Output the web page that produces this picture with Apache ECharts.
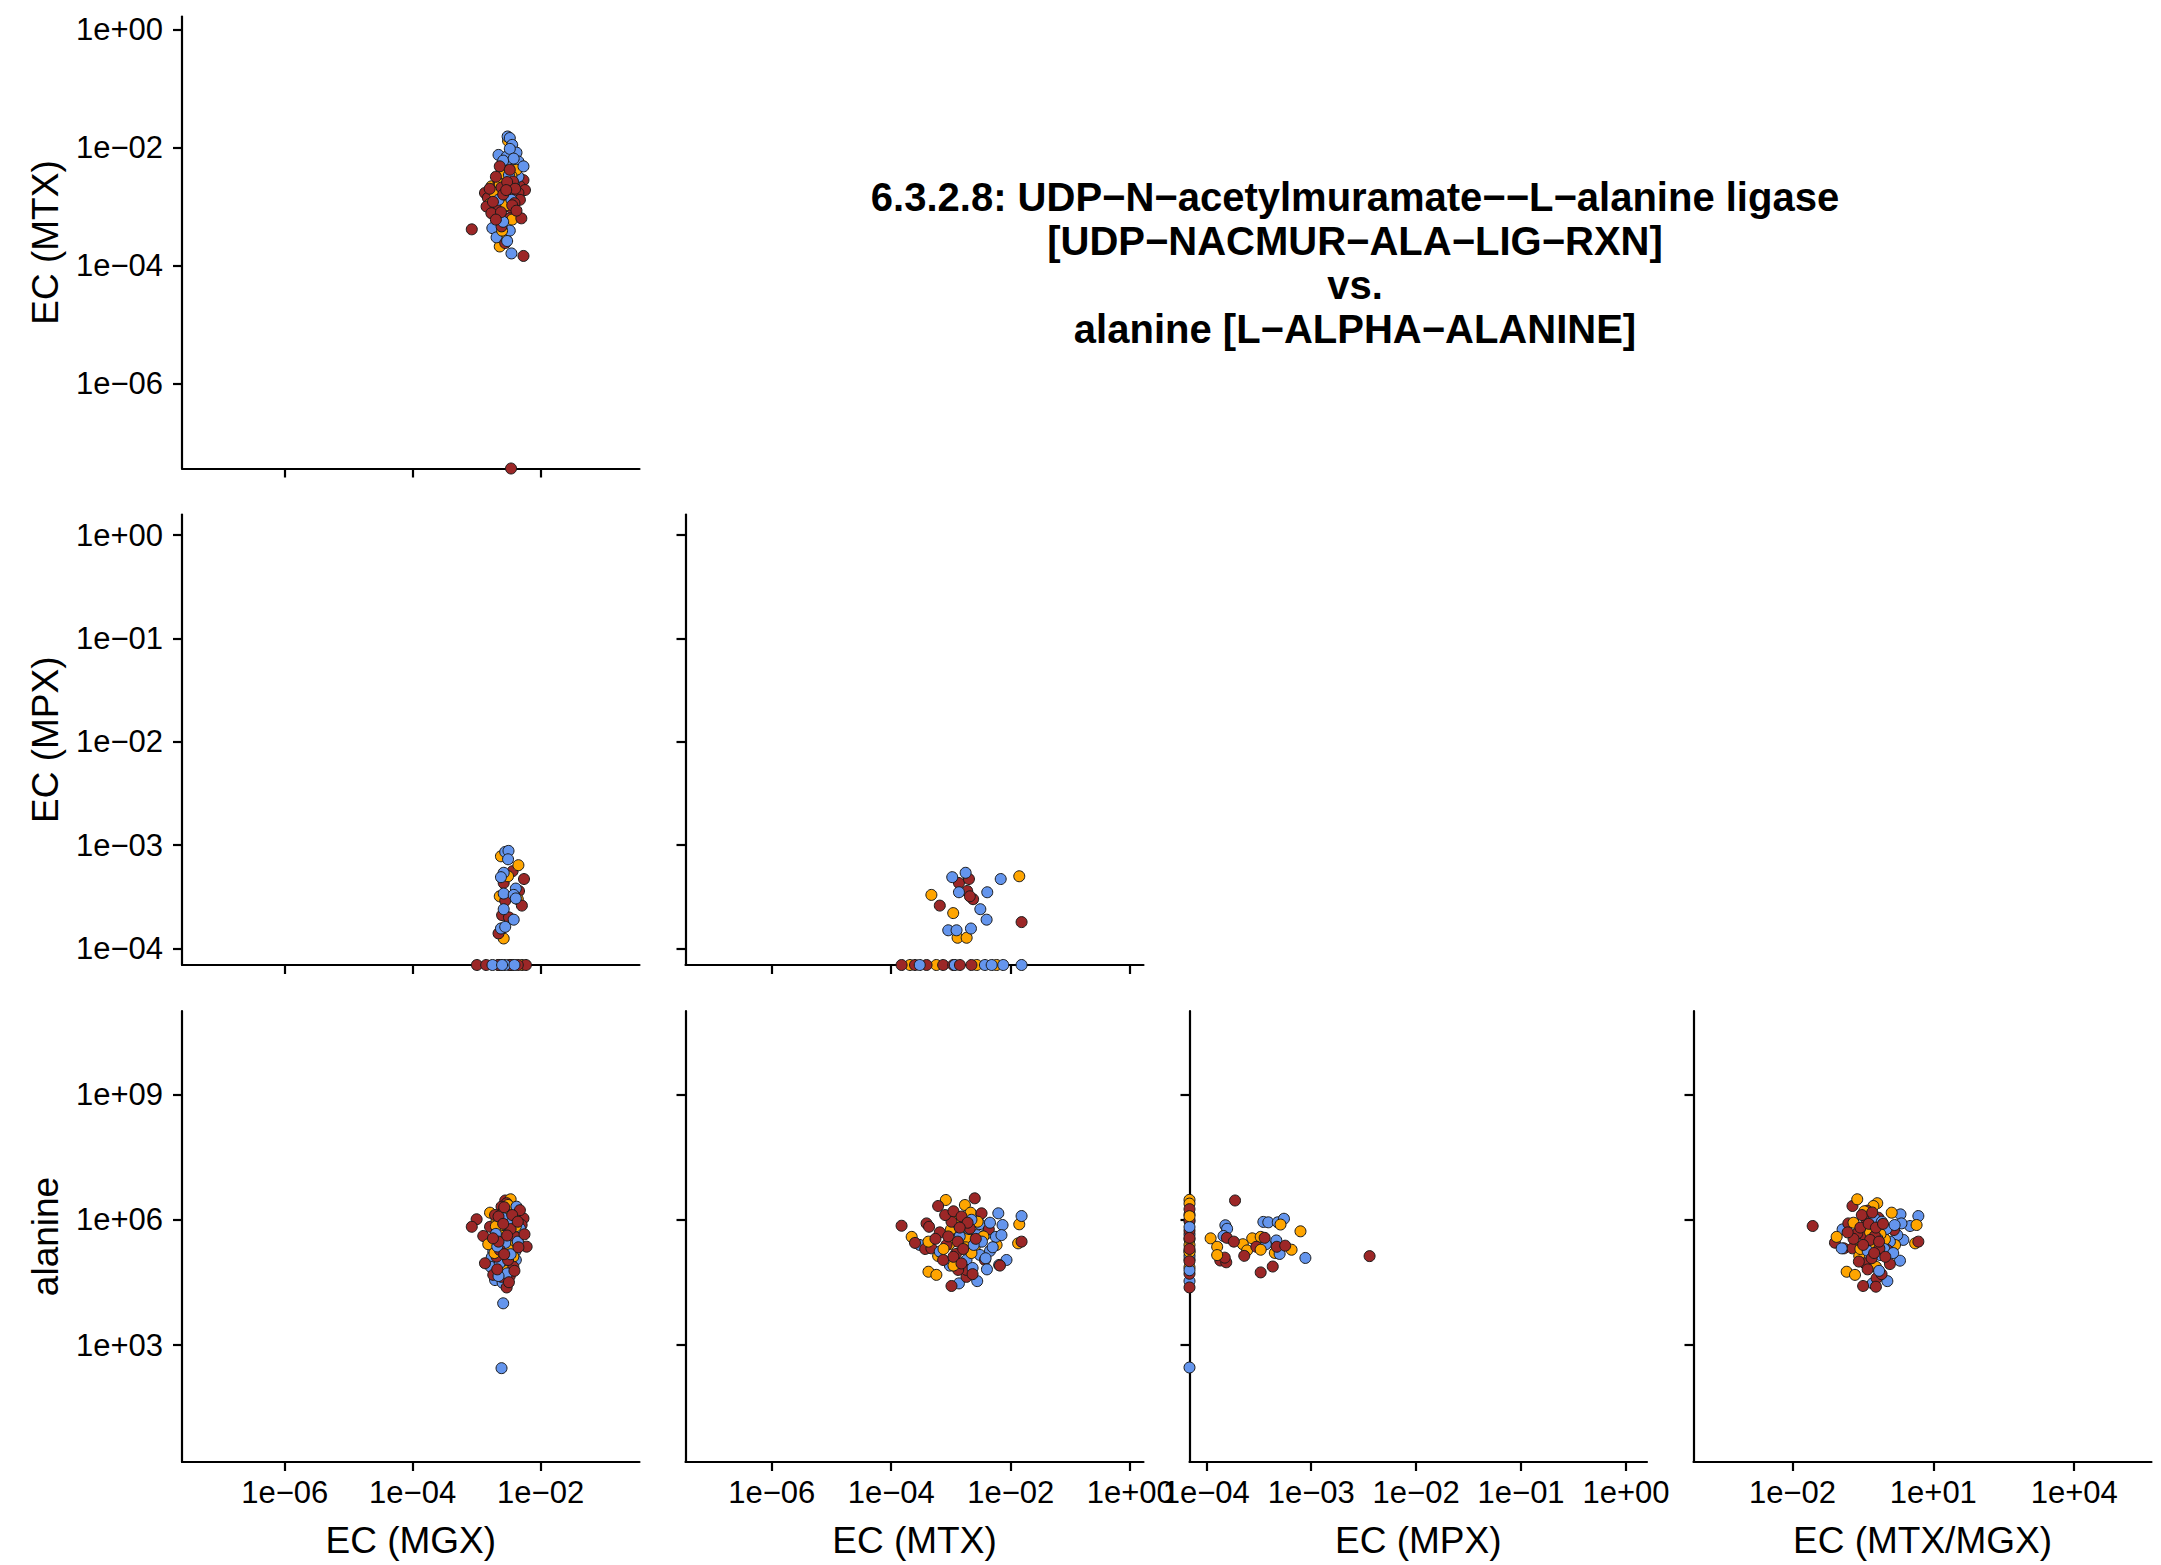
<!DOCTYPE html>
<html>
<head>
<meta charset="utf-8">
<script src="https://cdn.jsdelivr.net/npm/echarts@6.0.0/dist/echarts.min.js"></script>
<style>
html,body{margin:0;padding:0;background:#fff;}
#chart{width:2161px;height:1565px;}
</style>
</head>
<body>
<div id="chart"></div>
<script>
// ---------------- DATA ----------------
const titleLines = [
  "6.3.2.8: UDP\u2212N\u2212acetylmuramate\u2212\u2212L\u2212alanine ligase",
  "[UDP\u2212NACMUR\u2212ALA\u2212LIG\u2212RXN]",
  "vs.",
  "alanine [L\u2212ALPHA\u2212ALANINE]"
];
const groupColors = { red: "#9c2727", orange: "#ffa500", blue: "#6495ed" };

// axis ranges (value space) and tick values
const mgxLimits = [2.48e-8, 0.3516];
const mtxLimits = [3.6e-8, 1.67];
const mpxLimits = [6.92e-5, 1.585];
const ratioLimits = [7.83e-5, 4.42e5];
const alaLimits = [1.585, 1e11];
const mgxTicks = [1e-6, 1e-4, 1e-2];
const mtxTicks = [1e-6, 1e-4, 1e-2, 1];
const mpxTicks = [1e-4, 1e-3, 1e-2, 1e-1, 1];
const ratioTicks = [1e-2, 1e1, 1e4];
const alaTicks = [1e3, 1e6, 1e9];

// Panel: EC (MTX) vs EC (MGX)   [mgx, mtx]
const mtxVsMgx_red = [[2.8e-3,3.7e-3],[4.2e-3,3.45e-3],[3.1e-3,3.0e-3],[5.4e-3,2.8e-3],[2.2e-3,2.5e-3],[2.8e-3,2.2e-3],[4.75e-3,2.2e-3],[5.7e-3,1.9e-3],[1.35e-3,1.7e-3],[1.95e-3,1.8e-3],[3.5e-3,1.7e-3],[4.5e-3,1.7e-3],[1.5e-3,1.4e-3],[3.1e-3,1.2e-3],[4.75e-3,1.3e-3],[1.43e-3,1.0e-3],[2.2e-3,9.4e-4],[3.5e-3,9.4e-4],[1.7e-3,7.7e-4],[3.3e-3,6.3e-4],[5.0e-3,6.3e-4],[8.4e-4,4.1e-4],[2.45e-3,4.6e-4],[2.8e-3,2.4e-4],[5.4e-3,1.45e-4],[2.3e-3,4.8e-3],[3.7e-3,2.65e-3],[2.45e-3,2.1e-3],[3.9e-3,1.14e-3],[3.45e-3,3.6e-8],[2.0e-3,3.2e-3],[3.0e-3,2.6e-3],[4.0e-3,2.0e-3],[2.6e-3,1.6e-3],[1.8e-3,1.2e-3],[3.6e-3,1.05e-3],[2.4e-3,8.0e-4],[4.2e-3,8.5e-4],[2.0e-3,6.0e-4],[2.9e-3,1.9e-3],[1.6e-3,2.0e-3],[3.3e-3,4.2e-3]];
const mtxVsMgx_orange = [[3.1e-3,1.3e-2],[3.7e-3,5.4e-3],[1.7e-3,2.2e-3],[2.05e-3,1.3e-3],[1.8e-3,8.8e-4],[2.45e-3,6.8e-4],[2.8e-3,3.3e-4],[2.3e-3,2.1e-4],[2.2e-3,1.5e-3],[3.3e-3,1.9e-3],[1.95e-3,4.6e-4],[4.2e-3,4.2e-3],[2.6e-3,2.9e-3],[1.6e-3,1.1e-3],[2.7e-3,3.6e-3],[3.5e-3,3.3e-3],[2.3e-3,2.4e-3],[1.9e-3,1.7e-3],[2.9e-3,1.05e-3],[3.6e-3,6.0e-4],[2.5e-3,3.9e-4]];
const mtxVsMgx_blue = [[3.05e-3,1.54e-2],[3.3e-3,1.45e-2],[3.6e-3,1.11e-2],[2.2e-3,7.5e-3],[4.2e-3,8.2e-3],[2.95e-3,7.0e-3],[4.5e-3,5.8e-3],[2.95e-3,5.1e-3],[2.45e-3,4.2e-3],[4.5e-3,3.2e-3],[2.7e-3,1.57e-3],[2.8e-3,1.0e-3],[1.76e-3,4.3e-4],[3.3e-3,3.9e-4],[2.05e-3,3.0e-4],[3.5e-3,1.6e-4],[5.4e-3,4.8e-3],[3.8e-3,2.4e-3],[2.3e-3,6.0e-4],[3.3e-3,9.5e-3],[2.6e-3,6.0e-3],[3.8e-3,6.5e-3],[3.2e-3,3.4e-3],[2.2e-3,1.3e-3],[3.5e-3,1.3e-3],[2.6e-3,5.5e-4],[3.0e-3,2.6e-4]];

// Panel: EC (MPX) vs EC (MGX)   [mgx, mpx]
const mpxVsMgx_red = [[3.65e-3,5.6e-4],[5.5e-3,4.7e-4],[2.65e-3,4.3e-4],[4.6e-3,3.6e-4],[2.8e-3,2.9e-4],[5.1e-3,2.6e-4],[2.5e-3,2.1e-4],[3.2e-3,2.0e-4],[2.5e-3,1.56e-4],[2.2e-3,1.4e-4],[1.01e-3,6.92e-5],[1.41e-3,6.92e-5],[2.2e-3,6.92e-5],[3.3e-3,6.92e-5],[5.9e-3,6.92e-5],[4.4e-3,6.92e-5]];
const mpxVsMgx_orange = [[2.4e-3,7.8e-4],[4.5e-3,6.4e-4],[3.1e-3,5.0e-4],[2.3e-3,3.2e-4],[4.4e-3,3.0e-4],[2.65e-3,1.25e-4],[3.3e-3,6.92e-5],[5.1e-3,6.92e-5],[2.2e-3,6.92e-5],[3.6e-3,6.92e-5]];
const mpxVsMgx_blue = [[2.8e-3,8.6e-4],[3.15e-3,8.8e-4],[3.1e-3,7.3e-4],[2.65e-3,5.4e-4],[2.4e-3,4.9e-4],[4.1e-3,3.8e-4],[2.65e-3,3.4e-4],[3.8e-3,3.3e-4],[4.1e-3,3.05e-4],[2.65e-3,2.4e-4],[3.8e-3,1.9e-4],[2.4e-3,1.56e-4],[2.8e-3,1.62e-4],[1.77e-3,6.92e-5],[2.8e-3,6.92e-5],[3.9e-3,6.92e-5],[2.5e-3,6.92e-5]];

// Panel: EC (MPX) vs EC (MTX)   [mtx, mpx]
const mpxVsMtx_red = [[1.36e-3,4.3e-4],[2.0e-3,4.7e-4],[1.87e-3,3.6e-4],[2.35e-3,3.0e-4],[2.07e-3,3.2e-4],[6.5e-4,2.6e-4],[1.52e-2,1.8e-4],[1.49e-4,6.92e-5],[2.5e-4,6.92e-5],[3.9e-4,6.92e-5],[7.4e-4,6.92e-5],[1.09e-3,6.92e-5],[1.41e-3,6.92e-5],[2.2e-3,6.92e-5]];
const mpxVsMtx_orange = [[1.39e-2,5.0e-4],[4.7e-4,3.3e-4],[1.09e-3,2.2e-4],[1.29e-3,1.27e-4],[1.83e-3,1.27e-4],[2.06e-4,6.92e-5],[5.7e-4,6.92e-5],[2.7e-3,6.92e-5],[5.8e-3,6.92e-5]];
const mpxVsMtx_blue = [[1.05e-3,4.9e-4],[1.76e-3,5.4e-4],[6.8e-3,4.7e-4],[1.36e-3,3.5e-4],[4.05e-3,3.5e-4],[3.1e-3,2.4e-4],[3.95e-3,1.9e-4],[9.0e-4,1.5e-4],[1.24e-3,1.5e-4],[2.16e-3,1.56e-4],[3.0e-4,6.92e-5],[1.16e-3,6.92e-5],[3.7e-3,6.92e-5],[4.8e-3,6.92e-5],[7.5e-3,6.92e-5],[1.52e-2,6.92e-5]];

// Panel: alanine vs EC (MGX)   [mgx, alanine]
const alaVsMgx_red = [[2.8e-3,2.9e6],[2.95e-3,2.5e6],[2.45e-3,2.06e6],[1.0e-3,1.03e6],[8.4e-4,6.8e5],[1.62e-3,6.8e5],[1.27e-3,4.1e5],[5.4e-3,1.08e6],[5.05e-3,7.5e5],[2.6e-3,1.56e6],[2.95e-3,1.03e6],[6.05e-3,2.27e5],[1.35e-3,9.1e4],[1.82e-3,4.8e4],[3.75e-3,7.5e4],[2.45e-3,4.3e4],[3.3e-3,4.5e4],[2.95e-3,2.4e4],[2.05e-3,1.31e5],[4.0e-3,3.9e5],[3.1e-3,1.09e5],[4.75e-3,1.7e6],[1.94e-3,1.3e6],[2.3e-3,1.9e5],[3.4e-3,6.0e5],[2.2e-3,3.0e5],[2.2e-3,1.2e6],[3.6e-3,1.3e6],[4.4e-3,9.0e5],[2.6e-3,8.0e5],[3.0e-3,4.2e5],[1.8e-3,3.6e5],[4.5e-3,2.2e5],[2.7e-3,1.5e5],[3.9e-3,6.0e4],[2.1e-3,6.5e4],[3.2e-3,3.2e4],[2.7e-3,2.0e6],[5.6e-3,4.5e5]];
const alaVsMgx_orange = [[3.4e-3,3.1e6],[3.1e-3,2.26e6],[1.62e-3,1.48e6],[3.75e-3,9.0e5],[2.45e-3,5.2e5],[4.75e-3,4.5e5],[1.52e-3,2.6e5],[2.6e-3,2.27e5],[4.5e-3,2.73e5],[2.3e-3,3.3e5],[2.95e-3,6.3e4],[3.3e-3,5.7e5],[2.05e-3,9.9e5],[3.75e-3,1.31e5],[2.8e-3,1.09e5],[2.7e-3,1.7e6],[3.9e-3,1.15e6],[2.0e-3,7.0e5],[3.5e-3,3.3e5],[2.6e-3,4.1e5],[4.1e-3,7.0e5],[3.2e-3,1.9e5],[1.9e-3,1.6e5]];
const alaVsMgx_blue = [[4.1e-3,1.43e6],[2.2e-3,7.5e5],[2.95e-3,7.5e5],[1.82e-3,1.73e5],[1.72e-3,1.26e5],[4.0e-3,1.73e5],[4.1e-3,1.09e5],[1.66e-3,7.5e4],[2.6e-3,7.5e4],[1.94e-3,3.6e4],[2.55e-3,3.1e4],[2.6e-3,1.0e4],[2.45e-3,2.8e2],[3.3e-3,3.9e5],[3.75e-3,2.73e5],[3.1e-3,4.7e5],[2.3e-3,9.1e4],[4.2e-3,2.06e6],[4.75e-3,6.2e5],[2.6e-3,1.1e6],[3.5e-3,8.5e5],[2.0e-3,4.6e5],[2.8e-3,2.8e5],[3.4e-3,1.5e5],[2.1e-3,2.3e5],[3.0e-3,5.2e4],[2.2e-3,4.5e4],[4.4e-3,3.0e5]];

// Panel: alanine vs EC (MTX)   [mtx, alanine]
const alaVsMtx_red = [[2.5e-3,3.27e6],[6.1e-4,2.14e6],[1.49e-4,7.2e5],[3.9e-4,8.2e5],[4.3e-4,6.8e5],[2.5e-4,2.8e5],[3.7e-4,2.0e5],[4.7e-4,2.07e5],[1.52e-2,3.0e5],[1.02e-3,2.6e4],[1.82e-3,4.3e4],[1.9e-3,7.3e4],[1.24e-3,1.08e6],[3.25e-3,1.43e6],[4.3e-3,5.9e5],[1.21e-3,1.52e5],[8.4e-4,2.5e5],[7.4e-4,1.09e5],[3.7e-3,1.09e5],[1.02e-3,9.0e5],[1.82e-3,6.3e4],[1.32e-3,6.3e4],[2.07e-3,6.2e5],[6.6e-3,8.0e4],[8.0e-4,1.3e6],[1.1e-3,1.6e6],[1.5e-3,1.2e6],[6.5e-4,5.0e5],[9.0e-4,4.0e5],[1.3e-3,3.0e5],[1.6e-3,2.0e5],[1.1e-3,1.3e5],[1.5e-3,9.0e4],[2.3e-3,5.0e4],[2.6e-3,3.5e5],[5.5e-4,3.5e5],[1.9e-3,8.5e5],[1.4e-3,6.5e5]];
const alaVsMtx_orange = [[8.2e-4,2.98e6],[1.71e-3,2.26e6],[2.2e-4,3.9e5],[1.39e-2,7.8e5],[1.33e-2,2.73e5],[4.2e-4,5.7e4],[5.7e-4,4.8e4],[2.13e-3,1.48e6],[1.0e-3,5.9e5],[1.5e-3,4.7e5],[1.95e-3,3.6e5],[5.8e-3,2.5e5],[2.5e-3,2.27e5],[1.78e-3,2.19e5],[6.1e-4,1.36e5],[9.4e-4,2.6e5],[1.2e-3,1.0e6],[2.8e-3,9.0e5],[1.6e-3,6.5e5],[7.5e-4,2.0e5],[2.2e-3,1.6e5],[3.5e-3,4.0e5],[1.1e-3,8.0e4],[4.2e-4,3.0e5]];
const alaVsMtx_blue = [[3.0e-4,2.5e5],[6.2e-3,1.43e6],[7.3e-3,7.5e5],[1.52e-2,1.23e6],[8.5e-3,1.09e5],[6.4e-3,8.3e4],[1.36e-3,3.0e4],[2.75e-3,3.4e4],[9.6e-4,8.0e4],[3.05e-3,7.9e5],[3.95e-3,4.7e5],[4.5e-3,1.8e5],[3.05e-3,1.44e5],[1.82e-3,1.09e5],[1.28e-3,8.2e5],[6.5e-4,1.73e5],[2.7e-3,4.3e5],[5.65e-3,3.9e5],[2.2e-3,1.0e6],[4.5e-3,8.5e5],[2.0e-3,6.0e5],[3.3e-3,3.0e5],[5.0e-3,2.2e5],[2.4e-3,2.5e5],[3.8e-3,1.2e5],[1.4e-3,4.0e5],[7.0e-3,4.3e5],[2.3e-3,7.0e4],[4.0e-3,6.5e4]];

// Panel: alanine vs EC (MPX)   [mpx, alanine]
const alaVsMpx_red = [[1.36e-4,1.06e5],[1.55e-4,9.6e4],[1.5e-4,1.24e5],[1.57e-4,3.7e5],[1.88e-4,2.9e6],[1.83e-4,3.0e5],[2.3e-4,1.37e5],[3.0e-4,2.26e5],[3.6e-4,3.7e5],[3.3e-4,5.5e4],[4.3e-4,7.6e4],[4.7e-4,2.26e5],[5.65e-4,2.4e5],[3.6e-3,1.35e5],[6.92e-5,1.35e6],[6.92e-5,1.0e6],[6.92e-5,5.5e5],[6.92e-5,5.1e4],[6.92e-5,2.4e4],[6.92e-5,1.8e6],[6.92e-5,2.0e5],[6.92e-5,1.02e5],[6.92e-5,3.7e5]];
const alaVsMpx_orange = [[1.1e-4,3.6e5],[1.27e-4,2.26e5],[1.27e-4,1.43e5],[2.23e-4,2.6e5],[2.45e-4,1.85e5],[2.74e-4,3.6e5],[3.3e-4,3.9e5],[3.3e-4,1.92e5],[4.5e-4,1.61e5],[5.1e-4,7.7e5],[6.5e-4,1.92e5],[7.9e-4,5.3e5],[6.92e-5,3.0e6],[6.92e-5,2.44e6],[6.92e-5,2.5e5],[6.92e-5,1.13e5],[6.92e-5,7.3e4],[6.92e-5,3.4e5],[6.92e-5,1.67e5],[6.92e-5,1.22e6]];
const alaVsMpx_blue = [[1.52e-4,7.4e5],[1.58e-4,6.1e5],[1.46e-4,4.1e5],[3.7e-4,2.6e5],[3.5e-4,8.9e5],[3.9e-4,8.7e5],[4.65e-4,3.2e5],[4.8e-4,8.7e5],[5.5e-4,1.06e6],[5.0e-4,1.52e5],[8.8e-4,1.22e5],[6.92e-5,9.1e5],[6.92e-5,4.5e5],[6.92e-5,1.78e5],[6.92e-5,3.4e4],[6.92e-5,2.9e2],[6.92e-5,6.7e5],[6.92e-5,1.37e5],[6.92e-5,6.2e4]];

// Panel: alanine vs EC (MTX/MGX)   [ratio, alanine]
const alaVsRatio_red = [[0.19,2.14e6],[0.027,7.1e5],[0.155,8.2e5],[0.0805,2.83e5],[0.125,2.07e5],[0.19,2.07e5],[0.39,1.65e6],[0.675,1.12e6],[0.38,9.9e5],[1.45,5.7e5],[4.8,3.0e5],[0.334,4.3e5],[0.225,4.3e5],[0.486,2.73e5],[1.05,1.9e5],[0.35,9.1e4],[1.19,8.7e4],[0.32,2.6e4],[0.62,4.0e4],[0.79,5.0e4],[0.57,4.1e5],[0.486,1.2e5],[0.24,4.7e5],[0.71,2.07e5],[0.28,6.5e5],[0.45,3.3e5],[0.3,1.3e6],[0.5,1.5e6],[0.42,8.0e5],[0.6,6.5e5],[0.2,3.5e5],[0.32,2.5e5],[0.7,3.0e5],[0.55,1.6e5],[0.26,1.0e5],[0.4,6.5e4],[0.95,1.3e5],[0.6,2.5e4],[0.85,8.0e5],[0.15,5.0e5]];
const alaVsRatio_orange = [[0.24,3.1e6],[0.64,2.5e6],[0.53,2.14e6],[0.0875,3.9e5],[0.39,7.5e5],[0.64,9.0e5],[1.3,1.48e6],[4.4,7.5e5],[4.1,2.73e5],[1.53,2.5e5],[0.265,1.36e5],[0.6,7.5e4],[0.143,5.7e4],[0.215,4.8e4],[0.298,2.35e5],[0.935,3.4e5],[0.34,1.6e6],[0.45,5.0e5],[0.75,4.5e5],[0.28,2.0e5],[0.58,2.6e5],[0.2,8.5e5]];
const alaVsRatio_blue = [[0.117,5.9e5],[2.0,1.35e6],[4.8,1.23e6],[3.2,7.1e5],[2.1,8.2e5],[2.3,3.3e5],[1.71,4.3e5],[0.73,1.44e5],[1.95,1.05e5],[0.51,3.0e4],[1.05,3.4e4],[0.112,2.07e5],[0.86,5.2e5],[1.19,3.0e5],[0.45,7.1e5],[0.55,1.1e6],[0.8,9.0e5],[1.0,6.0e5],[0.65,3.5e5],[0.9,2.0e5],[0.4,1.8e5],[1.4,1.6e5],[0.7,6.0e4],[1.5,7.5e5]];

// ---------------- CHART ----------------
const FONT = '"Liberation Sans", Arial, Helvetica, sans-serif';
const fmt = v => {
  const e = Math.round(Math.log10(v));
  return '1e' + (e < 0 ? '\u2212' : '+') + String(Math.abs(e)).padStart(2, '0');
};

const cols = [{left: 182, width: 457.5}, {left: 685.5, width: 458}, {left: 1189.5, width: 457.5}, {left: 1693.5, width: 458}];
const rows = [{top: 16.5, height: 452}, {top: 514.5, height: 450.5}, {top: 1011, height: 451}];

const panels = [
  {r:0, c:0, x:{lim:mgxLimits, ticks:mgxTicks, labels:false}, y:{lim:mtxLimits, ticks:mtxTicks, labels:true, name:'EC (MTX)'}, d:[mtxVsMgx_red, mtxVsMgx_orange, mtxVsMgx_blue]},
  {r:1, c:0, x:{lim:mgxLimits, ticks:mgxTicks, labels:false}, y:{lim:mpxLimits, ticks:mpxTicks, labels:true, name:'EC (MPX)'}, d:[mpxVsMgx_red, mpxVsMgx_orange, mpxVsMgx_blue]},
  {r:1, c:1, x:{lim:mtxLimits, ticks:mtxTicks, labels:false}, y:{lim:mpxLimits, ticks:mpxTicks, labels:false}, d:[mpxVsMtx_red, mpxVsMtx_orange, mpxVsMtx_blue]},
  {r:2, c:0, x:{lim:mgxLimits, ticks:mgxTicks, labels:true, name:'EC (MGX)'}, y:{lim:alaLimits, ticks:alaTicks, labels:true, name:'alanine'}, d:[alaVsMgx_red, alaVsMgx_orange, alaVsMgx_blue]},
  {r:2, c:1, x:{lim:mtxLimits, ticks:mtxTicks, labels:true, name:'EC (MTX)'}, y:{lim:alaLimits, ticks:alaTicks, labels:false}, d:[alaVsMtx_red, alaVsMtx_orange, alaVsMtx_blue]},
  {r:2, c:2, x:{lim:mpxLimits, ticks:mpxTicks, labels:true, name:'EC (MPX)'}, y:{lim:alaLimits, ticks:alaTicks, labels:false}, d:[alaVsMpx_red, alaVsMpx_orange, alaVsMpx_blue]},
  {r:2, c:3, x:{lim:ratioLimits, ticks:ratioTicks, labels:true, name:'EC (MTX/MGX)'}, y:{lim:alaLimits, ticks:alaTicks, labels:false}, d:[alaVsRatio_red, alaVsRatio_orange, alaVsRatio_blue]}
];

function makeAxis(isX, gi, a) {
  return {
    type: 'log', logBase: 10, gridIndex: gi,
    min: a.lim[0], max: a.lim[1],
    position: isX ? 'bottom' : 'left',
    splitLine: {show: false}, splitArea: {show: false},
    minorTick: {show: false}, minorSplitLine: {show: false},
    axisLine: {show: true, onZero: false, lineStyle: {color: '#000', width: 2.2}},
    axisTick: {show: true, inside: false, length: 9, customValues: a.ticks, lineStyle: {color: '#000', width: 2.2}},
    axisLabel: {show: a.labels, customValues: a.ticks, formatter: fmt, margin: isX ? 15 : 19,
      color: '#000', fontSize: 31, fontFamily: FONT, lineHeight: 31, hideOverlap: false},
    name: a.name || '', nameLocation: 'middle', nameGap: isX ? 60 : 118, nameMoveOverlap: false,
    nameTextStyle: {color: '#000', fontSize: 37, fontFamily: FONT, lineHeight: 37},
    axisPointer: {show: false}, silent: true
  };
}

function interleave(groups) {
  const names = ['red', 'orange', 'blue'];
  const out = [];
  const n = Math.max(...groups.map(g => g.length));
  for (let i = 0; i < n; i++) {
    groups.forEach((g, k) => {
      if (i < g.length) out.push({value: g[i], itemStyle: {color: groupColors[names[k]]}});
    });
  }
  return out;
}

const option = {
  animation: false,
  backgroundColor: '#ffffff',
  grid: panels.map(p => ({left: cols[p.c].left, top: rows[p.r].top, width: cols[p.c].width, height: rows[p.r].height,
    containLabel: false, outerBoundsMode: 'none', show: false})),
  xAxis: panels.map((p, i) => makeAxis(true, i, p.x)),
  yAxis: panels.map((p, i) => makeAxis(false, i, p.y)),
  series: panels.map((p, i) => ({
    type: 'scatter', xAxisIndex: i, yAxisIndex: i, symbol: 'circle', symbolSize: 11, clip: true, silent: true,
    itemStyle: {borderColor: '#1a1a1a', borderWidth: 1, opacity: 1},
    emphasis: {disabled: true},
    data: interleave(p.d)
  })),
  graphic: [{
    type: 'text', x: 1355, y: 175, silent: true,
    style: {text: titleLines.join('\n'), font: 'bold 40px ' + FONT, fill: '#000', align: 'center', verticalAlign: 'top', lineHeight: 44}
  }]
};

const chart = echarts.init(document.getElementById('chart'), null, {renderer: 'svg', width: 2161, height: 1565});
chart.setOption(option);
</script>
</body>
</html>
